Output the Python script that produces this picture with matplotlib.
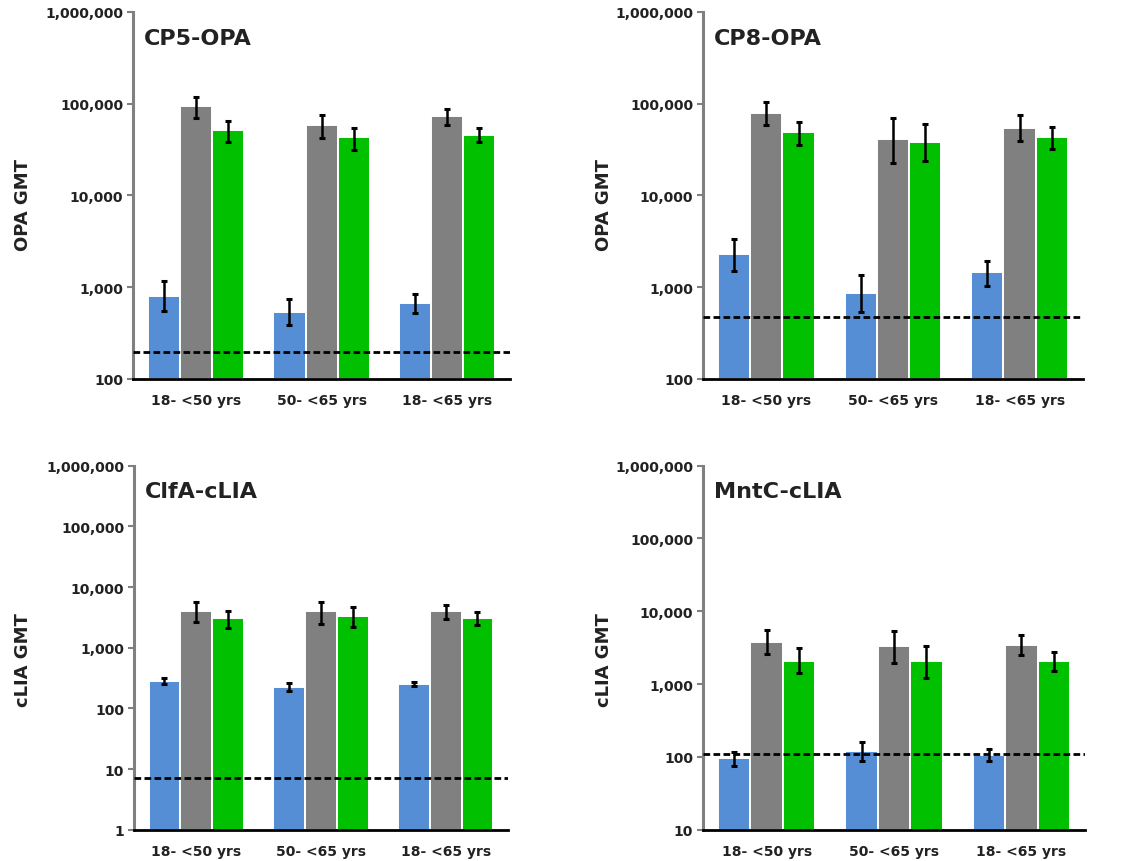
import numpy as np
import matplotlib
matplotlib.use("Agg")
import matplotlib.pyplot as plt
from matplotlib.ticker import FixedLocator, FuncFormatter, NullLocator

# ---- data -----------------------------------------------------------------
age_groups = ["18- <50 yrs", "50- <65 yrs", "18- <65 yrs"]
series_colors = ["#558ED5", "#808080", "#00C000"]

# CP5-OPA: GMT, lower / upper 95% CI, per series (blue, gray, green)
cp5_gmt = [[805, 531, 671], [93700, 58000, 74000], [51700, 43000, 46100]]
cp5_lo = [[553, 386, 518], [69800, 42000, 58000], [38500, 31500, 38000]]
cp5_hi = [[1175, 741, 841], [119000, 75900, 87500], [64300, 54300, 53800]]
cp5_lloq = 198

# CP8-OPA
cp8_gmt = [[2330, 855, 1450], [78500, 40900, 54300], [48700, 38500, 43600]]
cp8_lo = [[1510, 540, 1035], [58000, 22400, 39500], [35700, 23900, 32100]]
cp8_hi = [[3350, 1355, 1910], [103500, 69300, 75300], [63700, 60100, 55300]]
cp8_lloq = 468

# ClfA-cLIA
clfa_gmt = [[285, 222, 252], [3970, 3970, 3970], [3040, 3330, 3040]]
clfa_lo = [[250, 195, 231], [2690, 2460, 2970], [2140, 2160, 2370]]
clfa_hi = [[315, 258, 268], [5580, 5580, 5110], [4070, 4680, 3870]]
clfa_lloq = 7

# MntC-cLIA
mntc_gmt = [[96, 122, 106], [3790, 3300, 3480], [2100, 2100, 2100]]
mntc_lo = [[76, 87, 88], [2560, 1950, 2530], [1400, 1220, 1500]]
mntc_hi = [[118, 158, 128], [5590, 5360, 4770], [3090, 3370, 2790]]
mntc_lloq = 108

panels = [
    dict(title="CP5-OPA", ylabel="OPA GMT", gmt=cp5_gmt, lo=cp5_lo, hi=cp5_hi,
         lloq=cp5_lloq, ymin=100, rect=[0.1166, 0.5592, 0.3304, 0.4258],
         label_xy=(-0.268, 0.477)),
    dict(title="CP8-OPA", ylabel="OPA GMT", gmt=cp8_gmt, lo=cp8_lo, hi=cp8_hi,
         lloq=cp8_lloq, ymin=100, rect=[0.6161, 0.5592, 0.3330, 0.4258],
         label_xy=(-0.237, 0.477)),
    dict(title="ClfA-cLIA", ylabel="cLIA GMT", gmt=clfa_gmt, lo=clfa_lo, hi=clfa_hi,
         lloq=clfa_lloq, ymin=1, rect=[0.1174, 0.0363, 0.3278, 0.4223],
         label_xy=(-0.273, 0.469)),
    dict(title="MntC-cLIA", ylabel="cLIA GMT", gmt=mntc_gmt, lo=mntc_lo, hi=mntc_hi,
         lloq=mntc_lloq, ymin=10, rect=[0.6161, 0.0363, 0.3348, 0.4223],
         label_xy=(-0.236, 0.469)),
]

# ---- drawing ----------------------------------------------------------------
plt.rcParams["font.family"] = ["DejaVu Sans"]
plt.rcParams["font.weight"] = "bold"
text_color = "#222222"

fig = plt.figure(figsize=(11.41, 8.62), dpi=100)
x = np.arange(len(age_groups))
offsets = [-0.255, 0.0, 0.255]
bar_w = 0.255

for p in panels:
    ax = fig.add_axes(p["rect"])
    ax.set_yscale("log")
    ymin, ymax = p["ymin"], 1e6
    ax.set_ylim(ymin, ymax)
    ax.set_xlim(-0.5, 2.5)

    for s in range(3):
        vals = np.array(p["gmt"][s], dtype=float)
        lo = np.array(p["lo"][s], dtype=float)
        hi = np.array(p["hi"][s], dtype=float)
        xs = x + offsets[s]
        ax.bar(xs, vals - ymin, bottom=ymin, width=bar_w, color=series_colors[s],
               edgecolor="white", linewidth=1.4, zorder=2)
        ax.errorbar(xs, vals, yerr=[vals - lo, hi - vals], fmt="none",
                    ecolor="black", elinewidth=1.8, capsize=2.5, capthick=2.2,
                    zorder=4)

    ax.axhline(p["lloq"], color="black", linestyle=(0, (2.4, 1.2)),
               linewidth=2.0, zorder=5)

    decades = [10.0 ** k for k in range(int(np.log10(ymin)), 7)]
    ax.yaxis.set_major_locator(FixedLocator(decades))
    ax.yaxis.set_minor_locator(NullLocator())
    ax.yaxis.set_major_formatter(FuncFormatter(lambda v, _: f"{int(round(v)):,}"))
    ax.set_xticks(x)
    ax.set_xticklabels(age_groups)

    ax.tick_params(axis="y", direction="out", length=4, width=1.5,
                   color="#808080", labelsize=10, labelcolor=text_color, pad=3)
    ax.tick_params(axis="x", length=0, labelsize=10, labelcolor=text_color, pad=10)

    for side in ("top", "right"):
        ax.spines[side].set_visible(False)
    ax.spines["left"].set_color("#808080")
    ax.spines["left"].set_linewidth(2.2)
    ax.spines["bottom"].set_color("black")
    ax.spines["bottom"].set_linewidth(2.0)
    ax.spines["bottom"].set_zorder(6)

    ax.text(0.03, 0.93, p["title"], transform=ax.transAxes, fontsize=16,
            fontweight="bold", color=text_color, ha="left", va="center")
    ax.set_ylabel(p["ylabel"], fontsize=13, fontweight="bold", color=text_color)
    ax.yaxis.set_label_coords(*p["label_xy"])

fig.savefig("out.png", dpi=100)
